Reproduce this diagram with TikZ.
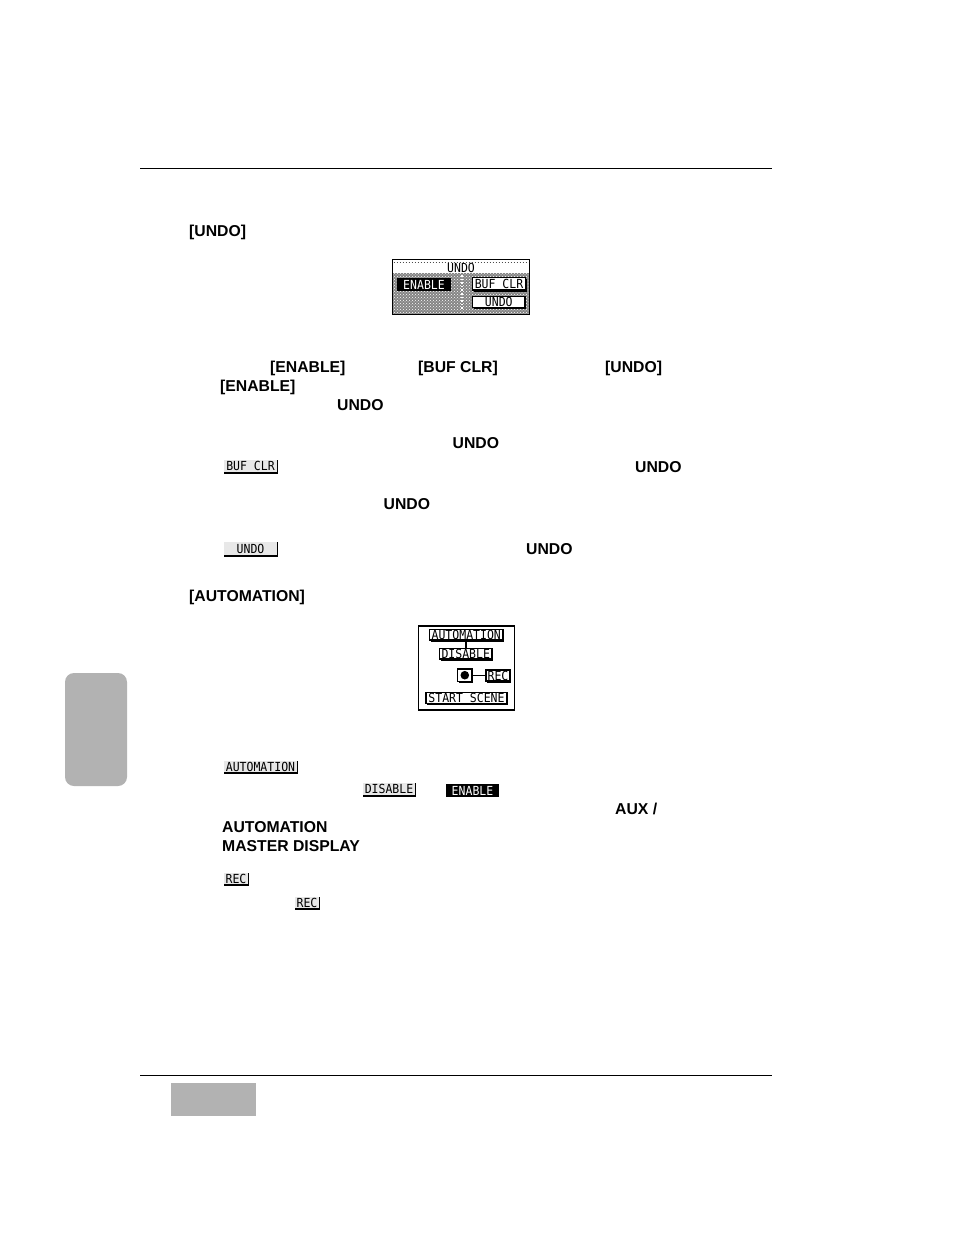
\documentclass[tikz,border=0pt]{standalone}
\usepackage{fontspec}
\setmainfont{Liberation Sans}
\newfontfamily\lcdfont[FakeStretch=0.92]{DejaVu Sans Mono}
\usetikzlibrary{patterns}
\definecolor{tabgray}{HTML}{B2B2B2}
\definecolor{chipgray}{HTML}{E8E8E8}
\tikzset{
  x=1pt,y=-1pt,
  rulerline/.style={line width=1pt,black},
  lbl/.style={anchor=west,inner sep=0pt,font=\fontsize{15.75}{17}\selectfont\bfseries},
  lcdtext/.style={inner sep=0pt,font=\fontsize{12.5}{13}\lcdfont},
  panel/.style={draw=black,line width=1.4pt,fill=white},
  frame/.style={draw=black,line width=1.1pt,fill=white},
  shade/.style={fill=black},
  chip/.style={fill=chipgray},
  wire/.style={draw=black,line width=1.2pt},
}
% \btn{name}{x0}{y0}{x1}{y1}{text}: framed LCD button with a heavy lower-right edge
\newcommand{\btn}[6]{%
  \fill[shade] (#2+1,#3+1) rectangle (#4+1,#5+1.5);
  \filldraw[frame] (#2,#3) rectangle (#4,#5);
  \node[lcdtext] (#1) at ({(#2+#4)/2},{(#3+#5)/2}) {#6};}
% \inl{name}{x0}{y0}{x1}{y1}{text}: inline grey chip with black lower-right edge
\newcommand{\inl}[6]{%
  \fill[shade] (#2,#3) rectangle (#4,#5);
  \fill[chip] (#2,#3) rectangle (#4-1.5,#5-2.5);
  \node[lcdtext] (#1) at ({(#2+#4)/2-0.5},{(#3+#5)/2-1}) {#6};}
% \inv{name}{x0}{y0}{x1}{y1}{text}: black chip with white text
\newcommand{\inv}[6]{%
  \fill[shade] (#2,#3) rectangle (#4,#5);
  \node[lcdtext,text=white] (#1) at ({(#2+#4)/2},{(#3+#5)/2}) {#6};}
\begin{document}
\begin{tikzpicture}
\useasboundingbox (0,0) rectangle (954,1235);
\fill[white] (0,0) rectangle (954,1235);
\coordinate (r1a) at (140,168.5); \coordinate (r1b) at (772,168.5);
\coordinate (r2a) at (140,1075.5); \coordinate (r2b) at (772,1075.5);
\draw[rulerline] (r1a) -- (r1b);
\draw[rulerline] (r2a) -- (r2b);
\fill[tabgray] (171,1083) rectangle (256,1116);
\fill[tabgray,rounded corners=9pt] (65,673) rectangle (127,786);

\node[lbl] (t1) at (189,232) {[UNDO]};
% UNDO panel
\filldraw[panel] (392.5,259.5) rectangle (529.5,314.5);
\fill[black!48] (393.2,272.5) rectangle (528.8,313.8);
\fill[pattern=crosshatch dots,pattern color=white] (393.2,272.5) rectangle (528.8,313.8);
\draw[line width=1pt,dotted,black!70] (393.5,262) -- (528.5,262);
\node[lcdtext] (pu) at (461,268) {UNDO};
\draw[line width=1.6pt,dotted,white] (462,275) -- (462,311);
\inv{pen}{397}{278}{451}{291}{ENABLE}
\btn{pbc}{472.5}{277.5}{525.5}{290}{BUF CLR}
\btn{pun}{472.5}{296.5}{525}{307.5}{UNDO}

\node[lbl] (t2) at (270,368) {[ENABLE]};
\node[lbl] (t3) at (418,368) {[BUF CLR]};
\node[lbl] (t4) at (605,368) {[UNDO]};
\node[lbl] (t5) at (220,387) {[ENABLE]};
\node[lbl] (t6) at (337,405) {UNDO};
\node[lbl] (t7) at (452.5,443) {UNDO};
\inl{i1}{224}{460}{278}{474}{BUF CLR}
\node[lbl] (t8) at (635,467) {UNDO};
\node[lbl] (t9) at (383.5,504) {UNDO};
\inl{i2}{224}{542}{278}{557}{UNDO}
\node[lbl] (t10) at (526,549) {UNDO};
\node[lbl] (t11) at (189,597.5) {[AUTOMATION]};

% AUTOMATION panel
\filldraw[panel] (418.5,626) rectangle (514.5,710);
\coordinate (au) at (466,640); \coordinate (di) at (466,649);
\draw[wire] (au) -- (di);
\coordinate (dotr) at (473,675.5); \coordinate (recl) at (486,675.5);
\draw[wire] (dotr) -- (recl);
\btn{pa}{429.5}{629.5}{503}{640}{AUTOMATION}
\btn{pd}{439.5}{648.5}{492}{659}{DISABLE}
\btn{pb}{457.5}{669}{472}{681.5}{}
\fill (464.8,675.2) circle (4.3pt);
\btn{pr}{486}{670}{510}{681}{REC}
\btn{ps}{426}{692.5}{507}{703.5}{START SCENE}

\inl{i3}{224}{761}{298}{774}{AUTOMATION}
\inl{i4}{363}{783}{416}{797}{DISABLE}
\inv{i5}{446}{784}{499}{797}{ENABLE}
\node[lbl] (t12) at (615,809) {AUX /};
\node[lbl] (t13) at (222,827) {AUTOMATION};
\node[lbl] (t14) at (222,846) {MASTER DISPLAY};
\inl{i6}{224}{873}{249}{886}{REC}
\inl{i7}{295}{897}{320}{910}{REC}
\end{tikzpicture}
\end{document}
